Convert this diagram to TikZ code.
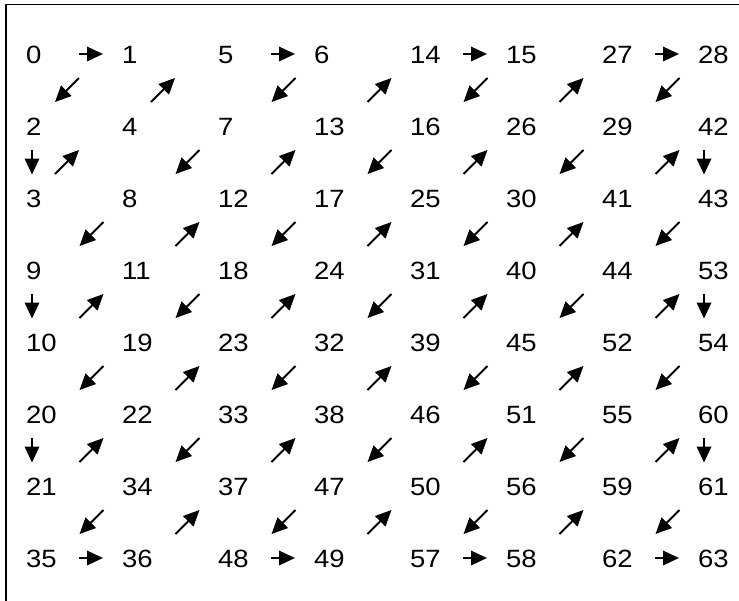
\documentclass[tikz,border=0pt]{standalone}
\usepackage{fontspec}
\setmainfont{Liberation Sans}[FakeStretch=1.1]
\usetikzlibrary{arrows.meta}
\newcommand\zzH[3]{%
  \coordinate (s#1) at ({27+96*#3+52},{54+72*#2});
  \coordinate (e#1) at ({27+96*#3+76},{54+72*#2});
  \draw[arr] (s#1) -- (e#1);}
\newcommand\zzV[3]{%
  \coordinate (s#1) at ({32+96*#3},{54+72*#2+23.5});
  \coordinate (e#1) at ({32+96*#3},{54+72*#2+48.5});
  \draw[arr] (s#1) -- (e#1);}
\newcommand\zzD[5]{%
  \coordinate (s#1) at ({27+96*#3+#4-12*(#5)},{90+72*#2+12*(#5)});
  \coordinate (e#1) at ({27+96*#3+#4+12*(#5)},{90+72*#2-12*(#5)});
  \draw[arr] (s#1) -- (e#1);}
\begin{document}
\begin{tikzpicture}[x=1pt,y=-1pt,
  num/.style={anchor=base west,inner sep=0pt,font=\fontsize{25}{30}\selectfont},
  arr/.style={line width=1.8pt,-{Triangle[length=16pt,width=14.5pt]}},
  frame/.style={line width=1.2pt}]
\useasboundingbox (0,0) rectangle (739,600);
\fill[white] (0,0) rectangle (739,600);
\clip (0,0) rectangle (739,600);
\draw[frame] (6,4.5) rectangle (760,620);
\foreach \n/\r/\c in {0/0/0,1/0/1,2/1/0,3/2/0,4/1/1,5/0/2,6/0/3,7/1/2,8/2/1,9/3/0,
  10/4/0,11/3/1,12/2/2,13/1/3,14/0/4,15/0/5,16/1/4,17/2/3,18/3/2,19/4/1,
  20/5/0,21/6/0,22/5/1,23/4/2,24/3/3,25/2/4,26/1/5,27/0/6,28/0/7,29/1/6,
  30/2/5,31/3/4,32/4/3,33/5/2,34/6/1,35/7/0,36/7/1,37/6/2,38/5/3,39/4/4,
  40/3/5,41/2/6,42/1/7,43/2/7,44/3/6,45/4/5,46/5/4,47/6/3,48/7/2,49/7/3,
  50/6/4,51/5/5,52/4/6,53/3/7,54/4/7,55/5/6,56/6/5,57/7/4,58/7/5,59/6/6,
  60/5/7,61/6/7,62/7/6,63/7/7}
  \node[num] (n\n) at ({26+96*\c},{63+72*\r}) {\n};
\foreach \n/\r/\c in {0/0/0,5/0/2,14/0/4,27/0/6,35/7/0,48/7/2,57/7/4,62/7/6}
  {\zzH{\n}{\r}{\c}}
\foreach \n/\r/\c in {2/1/0,9/3/0,20/5/0,42/1/7,53/3/7,60/5/7}
  {\zzV{\n}{\r}{\c}}
\foreach \n/\r/\c/\o/\d in {1/0/0/40/-1,3/1/0/40/1,4/0/1/40/1,
  6/0/2/64.5/-1,7/1/1/64.5/-1,8/2/0/64.5/-1,10/3/0/64.5/1,11/2/1/64.5/1,12/1/2/64.5/1,13/0/3/64.5/1,
  15/0/4/64.5/-1,16/1/3/64.5/-1,17/2/2/64.5/-1,18/3/1/64.5/-1,19/4/0/64.5/-1,
  21/5/0/64.5/1,22/4/1/64.5/1,23/3/2/64.5/1,24/2/3/64.5/1,25/1/4/64.5/1,26/0/5/64.5/1,
  28/0/6/64.5/-1,29/1/5/64.5/-1,30/2/4/64.5/-1,31/3/3/64.5/-1,32/4/2/64.5/-1,33/5/1/64.5/-1,34/6/0/64.5/-1,
  36/6/1/64.5/1,37/5/2/64.5/1,38/4/3/64.5/1,39/3/4/64.5/1,40/2/5/64.5/1,41/1/6/64.5/1,
  43/2/6/64.5/-1,44/3/5/64.5/-1,45/4/4/64.5/-1,46/5/3/64.5/-1,47/6/2/64.5/-1,
  49/6/3/64.5/1,50/5/4/64.5/1,51/4/5/64.5/1,52/3/6/64.5/1,
  54/4/6/64.5/-1,55/5/5/64.5/-1,56/6/4/64.5/-1,
  58/6/5/64.5/1,59/5/6/64.5/1,61/6/6/64.5/-1}
  {\zzD{\n}{\r}{\c}{\o}{\d}}
\end{tikzpicture}
\end{document}
